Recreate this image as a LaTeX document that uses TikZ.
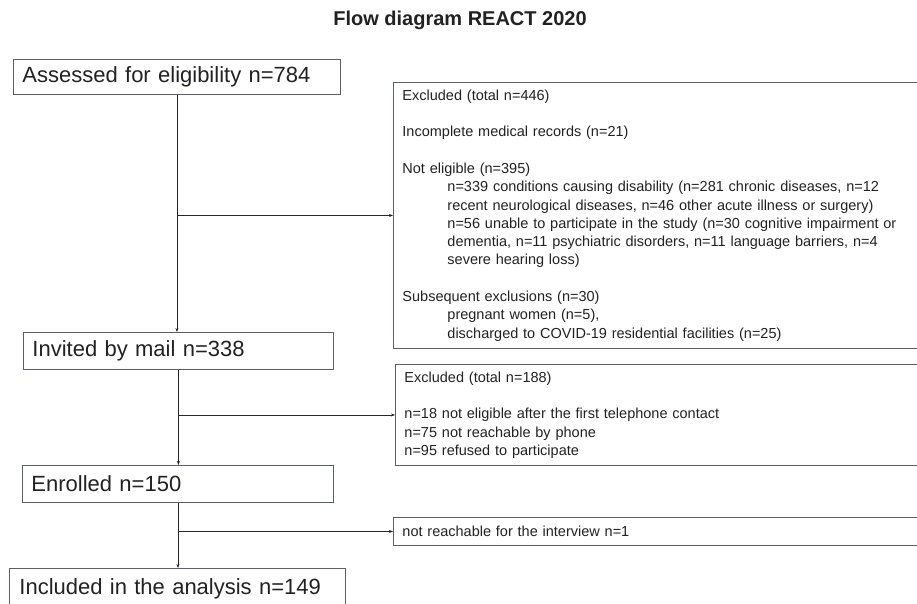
\documentclass[tikz,border=0pt]{standalone}
\usepackage{fontspec}
\setmainfont{Liberation Sans}
\usepackage{tikz}
\usetikzlibrary{arrows.meta,positioning}
\definecolor{boxline}{RGB}{88,94,106}
\definecolor{txt}{RGB}{34,34,34}
\tikzset{
  stagebox/.style={draw=boxline, line width=0.9pt, anchor=north west, align=left,
    inner xsep=9pt, inner ysep=0pt, text=txt, font=\fontsize{22}{26}\selectfont},
  exclbox/.style={draw=boxline, line width=0.9pt, anchor=north west, align=left,
    inner xsep=9pt, inner ysep=0pt, text=txt, text width=514pt,
    font=\fontsize{14.5}{18.3}\selectfont},
  flow/.style={draw=black!85, line width=0.7pt, -{Stealth[length=4pt,width=3pt]}}
}
\newcommand{\ind}{\hspace*{45pt}}

\begin{document}
\begin{tikzpicture}[x=1pt,y=-1pt]
\clip (0,0) rectangle (917,603);
\fill[white] (0,0) rectangle (917,603);
\node[font=\bfseries\fontsize{20}{24}\selectfont, text=txt] (title) at (460,20) {Flow diagram REACT 2020};

% main stages
\node[stagebox, text width=309pt, minimum height=35pt] (assess) at (13,59) {Assessed for eligibility n=784};
\node[stagebox, text width=292pt, minimum height=37pt] (invite) at (23,332) {Invited by mail n=338};
\node[stagebox, text width=293pt, minimum height=37pt] (enrol) at (22,465) {Enrolled n=150};
\node[stagebox, text width=316pt, minimum height=40pt, inner xsep=10pt] (incl) at (9,568) {Included in the analysis n=149};

% exclusions
\node[exclbox, minimum height=266pt] (excl1) at (393,82) {Excluded (total n=446)\\
\mbox{}\\
Incomplete medical records (n=21)\\
\mbox{}\\
Not eligible (n=395)\\
\ind n=339 conditions causing disability (n=281 chronic diseases, n=12\\
\ind recent neurological diseases, n=46 other acute illness or surgery)\\
\ind n=56 unable to participate in the study (n=30 cognitive impairment or\\
\ind dementia, n=11 psychiatric disorders, n=11 language barriers, n=4\\
\ind severe hearing loss)\\
\mbox{}\\
Subsequent exclusions (n=30)\\
\ind pregnant women (n=5),\\
\ind discharged to COVID-19 residential facilities (n=25)};
\node[exclbox, minimum height=101pt] (excl2) at (395,364) {Excluded (total n=188)\\
\mbox{}\\
n=18 not eligible after the first telephone contact\\
n=75 not reachable by phone\\
n=95 refused to participate};
\node[exclbox, minimum height=28pt] (excl3) at (393,517) {not reachable for the interview n=1};

% connectors
\draw[flow] (assess.south) -- (assess.south |- invite.north);
\draw[flow] (assess.south |- excl1.west) -- (excl1.west);
\draw[flow] (invite.south) -- (invite.south |- enrol.north);
\draw[flow] (invite.south |- excl2.west) -- (excl2.west);
\draw[flow] (enrol.south) -- (enrol.south |- incl.north);
\draw[flow] (enrol.south |- excl3.west) -- (excl3.west);
\end{tikzpicture}
\end{document}
